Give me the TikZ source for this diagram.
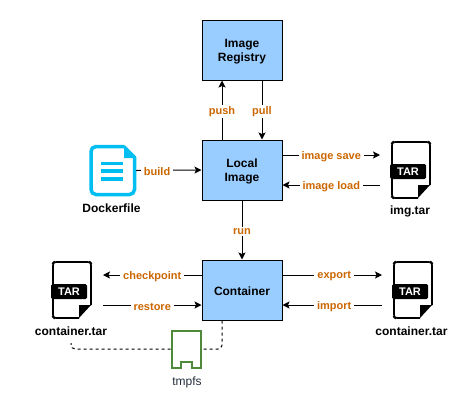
\documentclass[tikz,border=0pt]{standalone}
\usepackage{fontspec}
\setmainfont{Liberation Sans}
\usetikzlibrary{arrows.meta}
\definecolor{boxblue}{HTML}{99CCFF}
\definecolor{lab}{HTML}{CC6600}
\definecolor{dock}{HTML}{00BEF2}
\definecolor{fsgreen}{HTML}{4E8A3A}
\definecolor{fstext}{HTML}{232F3E}
\tikzset{
  x=1pt,y=-1pt,
  boxn/.style={draw=black,fill=boxblue,line width=1pt,minimum width=80pt,minimum height=60pt,inner sep=0pt},
  boxtxt/.style={inner sep=0pt,align=center,yshift=-1.5pt,font=\fontsize{12}{14}\selectfont\bfseries},
  link/.style={line width=1pt,-{Stealth[length=7pt,width=7pt,inset=1.5pt]}},
  lbl/.style={fill=white,text=lab,inner xsep=3pt,inner ysep=1.5pt,yshift=-1.5pt,font=\fontsize{11}{12}\selectfont\bfseries},
  captxt/.style={text=black,inner sep=0pt,font=\fontsize{12}{14}\selectfont\bfseries},
  iconarea/.style={inner sep=0pt,minimum width=38pt,minimum height=56pt,outer xsep=12pt},
  tarline/.style={draw=black,line width=1.6pt,line join=round},
  dashlink/.style={draw=black,line width=1pt,dash pattern=on 3pt off 3pt,rounded corners=4pt},
}
\newcommand{\taricon}[3]{%
  \node[iconarea] (#1) at (#2+19,#3+28) {};
  \begin{scope}[shift={(#2,#3)}]
    \draw[tarline,rounded corners=2pt] (26,56) -- (1,56) -- (0,55) -- (0,1) -- (1,0) -- (37,0) -- (38,1) -- (38,43);
    \fill[black] (26,56) -- (38,43) -- (26,43) -- cycle;
    \fill[black,rounded corners=1.5pt] (-2,22) rectangle (34,37);
    \node[text=white,inner sep=0pt,font=\fontsize{11}{12}\selectfont\bfseries] at (16,29.5) {TAR};
  \end{scope}}
\begin{document}
\begin{tikzpicture}
\useasboundingbox (0,0) rectangle (473,410);
\fill[white] (0,0) rectangle (473,410);
\node[boxn,label={[boxtxt]center:Image\\Registry}] (reg) at (242,50) {};
\node[boxn,label={[boxtxt]center:Local\\Image}] (local) at (242,170) {};
\node[boxn,label={[boxtxt]center:Container}] (cont) at (242,290) {};

% dockerfile icon
\node[inner sep=0pt,minimum width=47pt,minimum height=51pt] (dockerfile) at (112.5,170.5) {};
\draw[dock,line width=3.5pt,rounded corners=5pt] (124.5,146.5) -- (91,146.5) -- (91,194.5) -- (134.5,194.5) -- (134.5,157);
\draw[dock,line width=1.5pt] (124.5,146) -- (135.5,157);
\fill[dock] (124,146) -- (136,158) -- (124,158) -- cycle;
\foreach \yy in {163.5,171,179} \fill[dock] (101,\yy-1.8) rectangle (123,\yy+1.8);
\node[captxt] (dockcap) at (111.5,208) {Dockerfile};

\taricon{tarimg}{392}{142}
\node[captxt] (imgcap) at (410,211) {img.tar};
\taricon{tarright}{394}{262}
\node[captxt] (rightcap) at (411.5,331) {container.tar};
\taricon{tarleft}{53}{262}
\node[captxt] (leftcap) at (71,331) {container.tar};

% dashed link and tmpfs
\coordinate (dashend) at (71,343);
\draw[dashlink] ([xshift=-20pt]cont.south) -- (222,349) -- (71,349) -- (dashend);
\node[inner sep=0pt,minimum width=29pt,minimum height=37pt] (tmpfs) at (186.5,349.5) {};
\draw[fsgreen,fill=white,line width=1.3pt,line join=miter] (172,331) -- (201,331) -- (201,368) -- (192,368) -- (192,362) -- (181,362) -- (181,368) -- (172,368) -- cycle;
\node[text=fstext,inner sep=0pt,font=\fontsize{12}{14}\selectfont] (tmpfscap) at (187,382) {tmpfs};

% connectors
\draw[link] ([xshift=-20pt]local.north) -- node[lbl,pos=.5] {push} ([xshift=-20pt]reg.south);
\draw[link] ([xshift=20pt]reg.south) -- node[lbl,pos=.5] {pull} ([xshift=20pt]local.north);
\draw[link] (dockerfile.east) -- node[lbl,pos=.32] {build} (local.west);
\draw[link] ([yshift=15pt]local.east) -- node[lbl,pos=.5] {image save} ([yshift=15pt]tarimg.west);
\draw[link] ([yshift=-15pt]tarimg.west) -- node[lbl,pos=.5] {image load} ([yshift=-15pt]local.east);
\draw[link] (local.south) -- node[lbl,pos=.5] {run} (cont.north);
\draw[link] ([yshift=15pt]cont.west) -- node[lbl,pos=.5] {checkpoint} ([yshift=15pt]tarleft.east);
\draw[link] ([yshift=-15pt]tarleft.east) -- node[lbl,pos=.5] {restore} ([yshift=-15pt]cont.west);
\draw[link] ([yshift=15pt]cont.east) -- node[lbl,pos=.52] {export} ([yshift=15pt]tarright.west);
\draw[link] ([yshift=-15pt]tarright.west) -- node[lbl,pos=.48] {import} ([yshift=-15pt]cont.east);
\end{tikzpicture}
\end{document}
